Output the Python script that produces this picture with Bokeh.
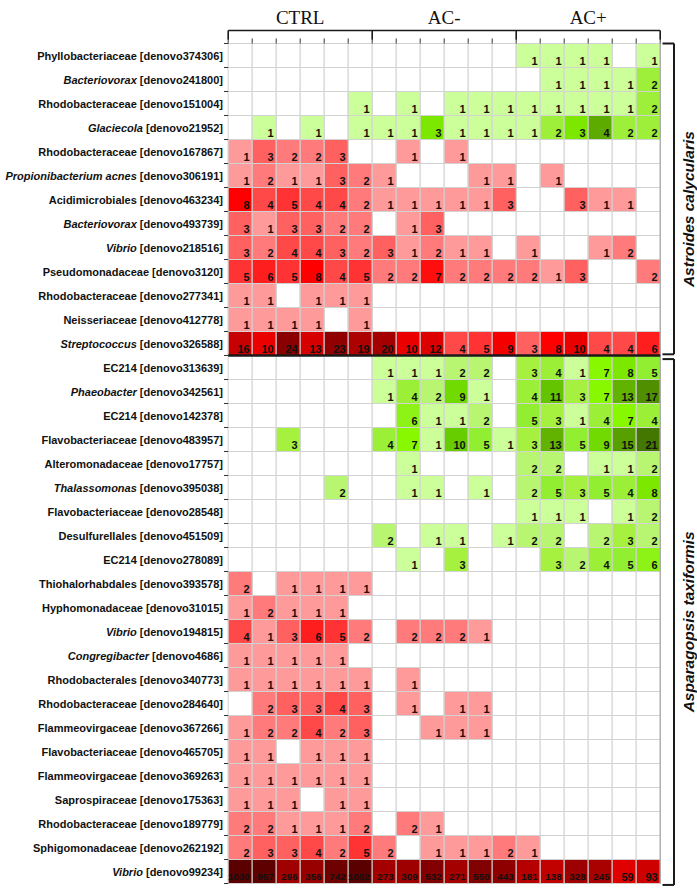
import math
from bokeh.plotting import figure
from bokeh.models import Range1d, ColumnDataSource, LogColorMapper
from bokeh.core.properties import value
from bokeh.embed import file_html
from bokeh.resources import INLINE

# ---------------- data ----------------
group_names = ["CTRL", "AC-", "AC+"]
host_names = ["Astroides calycularis", "Asparagopsis taxiformis"]
host_row_counts = [13, 22]

taxon_names = [
    "Phyllobacteriaceae", "Bacteriovorax", "Rhodobacteraceae", "Glaciecola", "Rhodobacteraceae",
    "Propionibacterium acnes", "Acidimicrobiales", "Bacteriovorax", "Vibrio", "Pseudomonadaceae",
    "Rhodobacteraceae", "Neisseriaceae", "Streptococcus",
    "EC214", "Phaeobacter", "EC214", "Flavobacteriaceae", "Alteromonadaceae", "Thalassomonas",
    "Flavobacteriaceae", "Desulfurellales", "EC214",
    "Thiohalorhabdales", "Hyphomonadaceae", "Vibrio", "Congregibacter", "Rhodobacterales",
    "Rhodobacteraceae", "Flammeovirgaceae", "Flavobacteriaceae", "Flammeovirgaceae",
    "Saprospiraceae", "Rhodobacteraceae", "Sphigomonadaceae", "Vibrio"]
otu_ids = [
    "denovo374306", "denovo241800", "denovo151004", "denovo21952", "denovo167867",
    "denovo306191", "denovo463234", "denovo493739", "denovo218516", "denovo3120",
    "denovo277341", "denovo412778", "denovo326588",
    "denovo313639", "denovo342561", "denovo142378", "denovo483957", "denovo17757", "denovo395038",
    "denovo28548", "denovo451509", "denovo278089",
    "denovo393578", "denovo31015", "denovo194815", "denovo4686", "denovo340773",
    "denovo284640", "denovo367266", "denovo465705", "denovo369263",
    "denovo175363", "denovo189779", "denovo262192", "denovo99234"]
is_genus = [False, True, False, True, False, True, False, True, True, False, False, False, True,
            False, True, False, False, False, True, False, False, False,
            False, False, True, True, False, False, False, False, False, False, False, False, True]
enriched_in_ac = [True, True, True, True, False, False, False, False, False, False, False, False, False,
                  True, True, True, True, True, True, True, True, True,
                  False, False, False, False, False, False, False, False, False, False, False, False, False]

ctrl_counts = [
    [0, 0, 0, 0, 0, 0], [0, 0, 0, 0, 0, 0], [0, 0, 0, 0, 0, 1], [0, 1, 0, 1, 0, 1],
    [1, 3, 2, 2, 3, 0], [1, 2, 1, 1, 3, 2], [8, 4, 5, 4, 4, 2], [3, 1, 3, 3, 2, 2],
    [3, 2, 4, 4, 3, 2], [5, 6, 5, 8, 4, 5], [1, 1, 0, 1, 1, 1], [1, 1, 1, 1, 0, 1],
    [16, 10, 24, 13, 23, 19],
    [0, 0, 0, 0, 0, 0], [0, 0, 0, 0, 0, 0], [0, 0, 0, 0, 0, 0], [0, 0, 3, 0, 0, 0],
    [0, 0, 0, 0, 0, 0], [0, 0, 0, 0, 2, 0], [0, 0, 0, 0, 0, 0], [0, 0, 0, 0, 0, 0],
    [0, 0, 0, 0, 0, 0],
    [2, 0, 1, 1, 1, 1], [1, 2, 1, 1, 1, 0], [4, 1, 3, 6, 5, 2], [1, 1, 1, 1, 1, 0],
    [1, 1, 1, 1, 1, 1], [0, 2, 3, 3, 4, 3], [1, 2, 2, 4, 2, 3], [1, 1, 0, 1, 1, 1],
    [1, 1, 1, 1, 1, 1], [1, 1, 1, 0, 1, 1], [2, 2, 1, 1, 1, 2], [2, 3, 3, 4, 2, 5],
    [1030, 957, 296, 356, 742, 1052]]
acm_counts = [
    [0, 0, 0, 0, 0, 0], [0, 0, 0, 0, 0, 0], [0, 1, 0, 1, 1, 1], [1, 1, 3, 1, 1, 1],
    [0, 1, 0, 1, 0, 0], [1, 0, 0, 0, 1, 1], [1, 1, 1, 1, 1, 3], [0, 1, 3, 0, 0, 0],
    [3, 1, 2, 1, 1, 0], [2, 2, 7, 2, 2, 2], [0, 0, 0, 0, 0, 0], [0, 0, 0, 0, 0, 0],
    [20, 10, 12, 4, 5, 9],
    [1, 1, 1, 2, 2, 0], [1, 4, 2, 9, 1, 0], [0, 6, 1, 1, 2, 0], [4, 7, 1, 10, 5, 1],
    [0, 1, 0, 0, 0, 0], [0, 1, 1, 0, 1, 0], [0, 0, 0, 0, 0, 0], [2, 0, 1, 1, 0, 1],
    [0, 1, 0, 3, 0, 0],
    [0, 0, 0, 0, 0, 0], [0, 0, 0, 0, 0, 0], [0, 2, 2, 2, 1, 0], [0, 0, 0, 0, 0, 0],
    [0, 1, 0, 0, 0, 0], [0, 1, 0, 1, 1, 0], [0, 0, 1, 1, 1, 0], [0, 0, 0, 0, 0, 0],
    [0, 0, 0, 0, 0, 0], [0, 0, 0, 0, 0, 0], [0, 2, 1, 0, 0, 0], [2, 0, 1, 1, 1, 2],
    [273, 309, 532, 271, 550, 443]]
acp_counts = [
    [1, 1, 1, 1, 0, 1], [0, 1, 1, 1, 1, 2], [1, 1, 1, 1, 1, 2], [1, 2, 3, 4, 2, 2],
    [0, 0, 0, 0, 0, 0], [0, 1, 0, 0, 0, 0], [0, 0, 3, 1, 1, 0], [0, 0, 0, 0, 0, 0],
    [1, 0, 0, 1, 2, 0], [2, 1, 3, 0, 0, 2], [0, 0, 0, 0, 0, 0], [0, 0, 0, 0, 0, 0],
    [3, 8, 10, 4, 4, 6],
    [3, 4, 1, 7, 8, 5], [4, 11, 3, 7, 13, 17], [5, 3, 1, 4, 7, 4], [3, 13, 5, 9, 15, 21],
    [2, 2, 0, 1, 1, 2], [2, 5, 3, 5, 4, 8], [1, 1, 1, 0, 1, 2], [2, 2, 0, 2, 3, 2],
    [0, 3, 2, 4, 5, 6],
    [0, 0, 0, 0, 0, 0], [0, 0, 0, 0, 0, 0], [0, 0, 0, 0, 0, 0], [0, 0, 0, 0, 0, 0],
    [0, 0, 0, 0, 0, 0], [0, 0, 0, 0, 0, 0], [0, 0, 0, 0, 0, 0], [0, 0, 0, 0, 0, 0],
    [0, 0, 0, 0, 0, 0], [0, 0, 0, 0, 0, 0], [0, 0, 0, 0, 0, 0], [1, 0, 0, 0, 0, 0],
    [181, 138, 328, 245, 59, 93]]

# ---------------- layout helpers (canvas pixel -> data units) ----------------
W, H = 697, 889
PXX = 24.0
X0 = 227.7
Y0 = 43.0
PXY = 24.0


def dx(px):
    return (px - X0) / PXX


def dy(px):
    return (px - Y0) / PXY


def ramp(anchors, n=256):
    out = []
    for i in range(n):
        t = i / (n - 1)
        for (t0, c0), (t1, c1) in zip(anchors[:-1], anchors[1:]):
            if t0 <= t <= t1:
                f = (t - t0) / (t1 - t0) if t1 > t0 else 0
                a = [int(c0[k:k + 2], 16) for k in (1, 3, 5)]
                b = [int(c1[k:k + 2], 16) for k in (1, 3, 5)]
                rgb = [round(a[j] + (b[j] - a[j]) * f) for j in range(3)]
                out.append("#%02x%02x%02x" % tuple(rgb))
                break
    return out


reds = ramp([(0, "#ff9a9a"), (0.22, "#ff7a7a"), (0.35, "#ff6060"), (0.5, "#ff3535"),
             (0.65, "#ff0000"), (0.75, "#e40000"), (0.88, "#c60000"), (1.0, "#8a0000")])
greens = ramp([(0, "#ccff99"), (0.23, "#b8f570"), (0.36, "#a6f040"), (0.53, "#92ee30"),
               (0.64, "#88f800"), (0.76, "#66cc00"), (0.84, "#62b400"), (0.9, "#569c00"),
               (1.0, "#447700")])
deep_reds = ramp([(0, "#ee0000"), (0.45, "#b80000"), (0.75, "#8c0000"), (1.0, "#5a0000")])

red_map = LogColorMapper(palette=reds, low=1, high=24)
green_maps = [LogColorMapper(palette=greens, low=1, high=5),     # coral panel
              LogColorMapper(palette=greens, low=1, high=21)]    # algae panel
deep_map = LogColorMapper(palette=deep_reds, low=40, high=1052)

p = figure(width=W, height=H, output_backend="svg", toolbar_location=None,
           x_range=Range1d(dx(0), dx(W)), y_range=Range1d(dy(H), dy(0)),
           x_axis_location=None, y_axis_location=None, min_border=0,
           outline_line_color=None, background_fill_color="white", border_fill_color="white")
p.grid.visible = False

n_rows = len(taxon_names)
n_cols = 18
sep = host_row_counts[0]

bg = dict(x=[], y=[])
keys = ["red", "green0", "green1", "deep"]
cells = {k: dict(x=[], y=[], v=[]) for k in keys}
nums = dict(x=[], y=[], t=[], s=[])
for r in range(n_rows):
    row_vals = ctrl_counts[r] + acm_counts[r] + acp_counts[r]
    host = 0 if r < sep else 1
    for c, v in enumerate(row_vals):
        bg["x"].append(c + 0.5)
        bg["y"].append(r + 0.5)
        if v <= 0:
            continue
        if max(row_vals) > 100:
            key = "deep"
        elif enriched_in_ac[r]:
            key = "green%d" % host
        else:
            key = "red"
        cells[key]["x"].append(c + 0.5)
        cells[key]["y"].append(r + 0.5)
        cells[key]["v"].append(v)
        nums["x"].append(c + 1)
        nums["y"].append(r + 1 - 7.0 / PXY)
        nums["t"].append(str(v))
        nums["s"].append("9.8px" if v >= 100 else "11px")

GRID = "#d2d2d2"
p.rect(x="x", y="y", width=1, height=1, source=ColumnDataSource(bg),
       fill_color="white", line_color=GRID, line_width=1)
for key, mp in zip(keys, [red_map, green_maps[0], green_maps[1], deep_map]):
    p.rect(x="x", y="y", width=1, height=1, source=ColumnDataSource(cells[key]),
           fill_color={"field": "v", "transform": mp}, line_color=GRID, line_width=1)

p.text(x="x", y="y", text="t", source=ColumnDataSource(nums), x_offset=-2.5,
       text_align="right", text_baseline="alphabetic", text_font=value("Liberation Sans"),
       text_font_style="bold", text_font_size="s", text_color="#111111")

# right edge of grid
p.segment(x0=[n_cols], y0=[0], x1=[n_cols], y1=[n_rows], line_color="#9a9a9a", line_width=1)

# thick separator between hosts
p.segment(x0=[0], y0=[sep], x1=[n_cols], y1=[sep], line_color="#1a1a1a", line_width=2.5)

# ---------------- row labels ----------------
LS = 11.0
arial_bold = {" ": 278, "[": 333, "]": 333, "d": 611, "e": 556, "n": 611, "o": 611, "v": 556}


def text_w(s):
    return sum(arial_bold.get(ch, 556) for ch in s) * LS / 1000.0


lab_x = dx(222.5)
plain = dict(x=[], y=[], t=[])
ids = dict(x=[], y=[], t=[])
gen = dict(x=[], y=[], t=[], off=[])
for r in range(n_rows):
    idt = "[" + otu_ids[r] + "]"
    if is_genus[r]:
        ids["x"].append(lab_x); ids["y"].append(r + 0.5); ids["t"].append(idt)
        gen["x"].append(lab_x); gen["y"].append(r + 0.5); gen["t"].append(taxon_names[r])
        gen["off"].append(-(text_w(idt) + text_w(" ")))
    else:
        plain["x"].append(lab_x); plain["y"].append(r + 0.5)
        plain["t"].append(taxon_names[r] + " " + idt)

common = dict(text_align="right", text_baseline="middle", text_font=value("Liberation Sans"),
              text_font_size="%.1fpx" % LS, text_color="#111111")
p.text(x="x", y="y", text="t", source=ColumnDataSource(plain), text_font_style="bold", **common)
p.text(x="x", y="y", text="t", source=ColumnDataSource(ids), text_font_style="bold", **common)
p.text(x="x", y="y", text="t", x_offset="off", source=ColumnDataSource(gen),
       text_font_style="bold italic", **common)

# left ticks at row boundaries
p.segment(x0=[dx(223.5)] * (n_rows + 1), y0=list(range(n_rows + 1)),
          x1=[0] * (n_rows + 1), y1=list(range(n_rows + 1)), line_color="#333333", line_width=1)

# ---------------- top header ----------------
p.segment(x0=list(range(n_cols + 1)), y0=[dy(38)] * (n_cols + 1),
          x1=list(range(n_cols + 1)), y1=[0] * (n_cols + 1), line_color="#333333", line_width=1)
p.segment(x0=[0], y0=[dy(30)], x1=[n_cols], y1=[dy(30)], line_color="#1a1a1a", line_width=1.6)
p.segment(x0=[0, 6, 12, 18], y0=[dy(30)] * 4, x1=[0, 6, 12, 18], y1=[dy(39)] * 4,
          line_color="#1a1a1a", line_width=1.6)
p.text(x=[3, 9, 15], y=[dy(17)] * 3, text=group_names, text_align="center",
       text_baseline="alphabetic", text_font=value("Liberation Serif"),
       text_font_size="19px", text_color="#111111")

# ---------------- right host brackets ----------------
bx = dx(673.5)
tops = [0, sep + 0.15]
bots = [sep - 0.05, n_rows + 0.06]
p.segment(x0=[bx, bx], y0=tops, x1=[bx, bx], y1=bots, line_color="#1a1a1a", line_width=2)
p.segment(x0=[dx(662)] * 4, y0=tops + bots, x1=[bx] * 4, y1=tops + bots,
          line_color="#1a1a1a", line_width=2)
p.text(x=[dx(687.5), dx(687.5)], y=[6.9, 24.1], text=host_names, angle=math.pi / 2,
       text_align="center", text_baseline="middle", text_font=value("Liberation Sans"),
       text_font_style="bold italic", text_font_size="15.5px", text_color="#111111")

open("out.html", "w").write(file_html(p, INLINE))
